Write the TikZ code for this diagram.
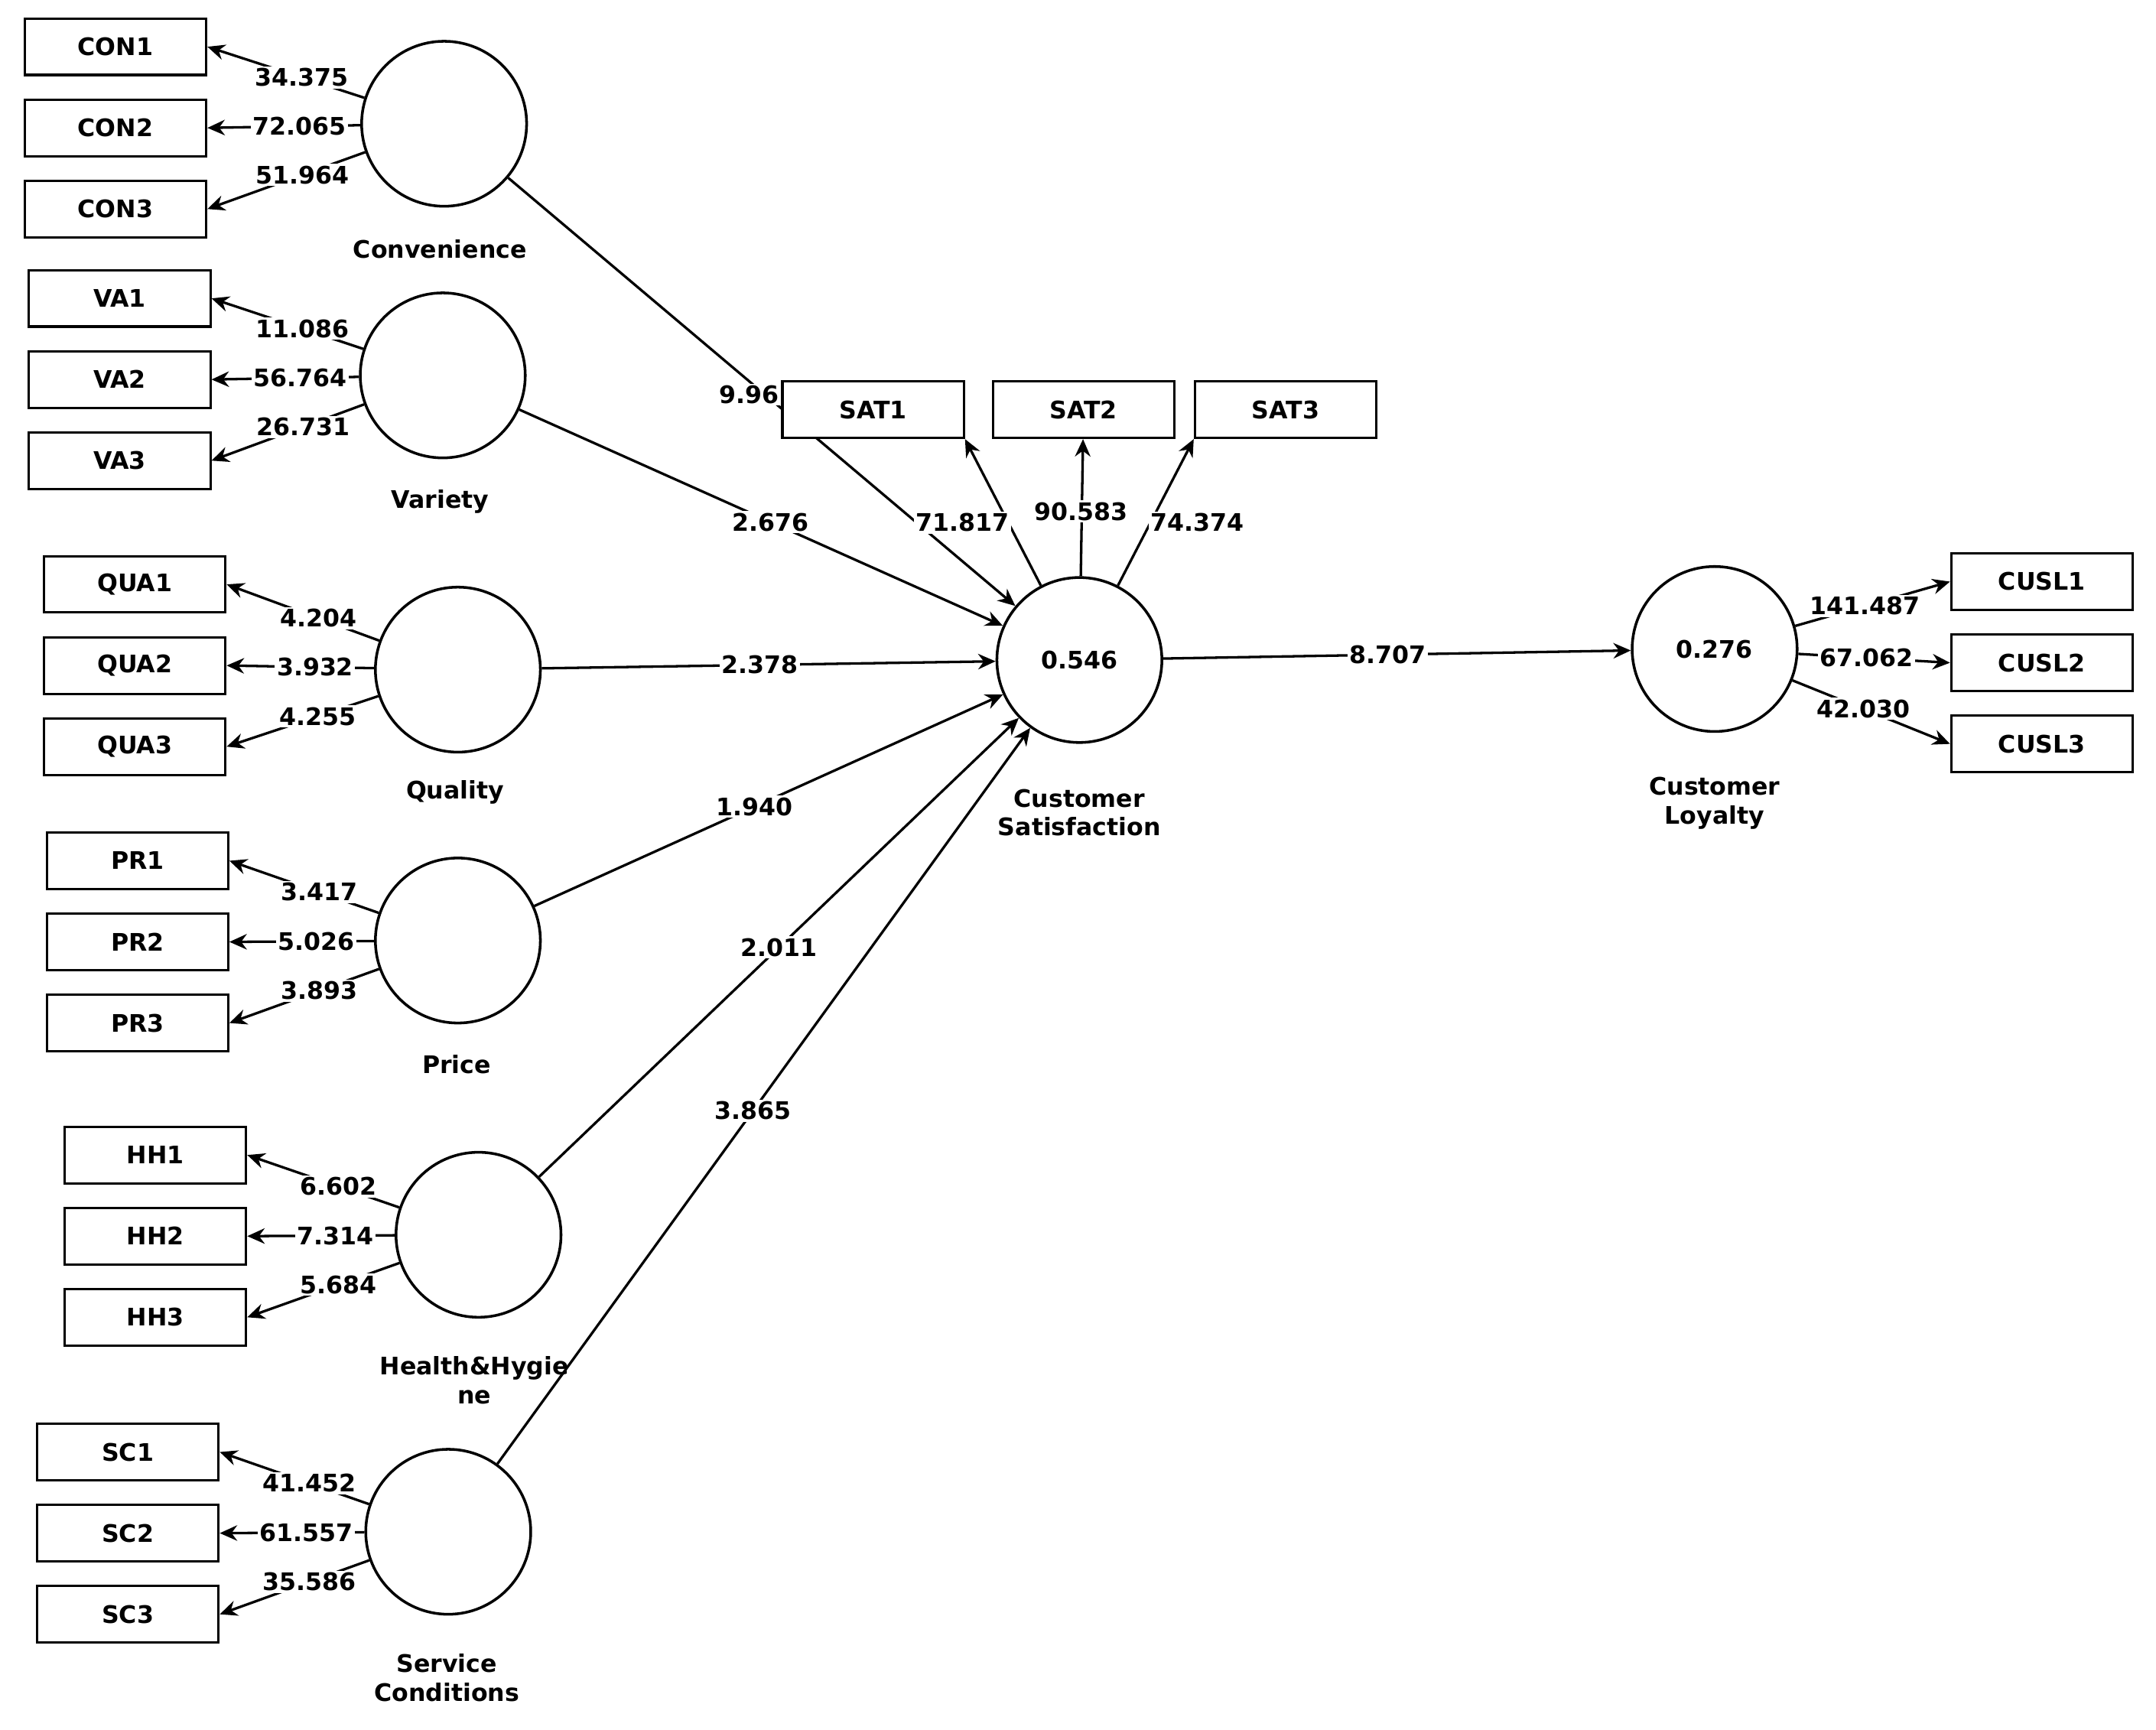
\documentclass[tikz,border=0pt]{standalone}
\usepackage{fontspec}
\setmainfont{DejaVu Sans}
\usetikzlibrary{arrows.meta}
\begin{document}
\begin{tikzpicture}[x=0.05cm,y=-0.05cm,
  every node/.style={font=\fontsize{25}{30}\selectfont\bfseries},
  lv/.style={circle,draw,line width=2.8pt,minimum size=6cm,inner sep=0pt},
  mv/.style={rectangle,draw,line width=2.4pt,minimum width=6.6cm,minimum height=2.05cm,inner sep=0pt},
  ln/.style={line width=2.6pt,-{Stealth[length=18pt,width=16pt]}},
  lab/.style={fill=white,inner sep=2pt},
  captxt/.style={align=center}]
\useasboundingbox (0,0) rectangle (1568,1258);
% latent variables
\node[lv] (con) at (323,90) {};
\node[lv] (va) at (322,273) {};
\node[lv] (qua) at (333,487) {};
\node[lv] (pr) at (333,684) {};
\node[lv] (hh) at (348,898) {};
\node[lv] (sc) at (326,1114) {};
\node[lv] (cs) at (785,480) {0.546};
\node[lv] (cl) at (1247,472) {0.276};
% captions
\node[captxt] (tcon) at (320,181) {Convenience};
\node[captxt] (tva) at (320,365) {Variety};
\node[captxt] (tqua) at (331,576) {Quality};
\node[captxt] (tpr) at (332,774) {Price};
\node[captxt] (thh) at (345,1004) {Health\&Hygie\\ne};
\node[captxt] (tsc) at (325,1220) {Service\\Conditions};
\node[captxt] (tcs) at (785,591) {Customer\\Satisfaction};
\node[captxt] (tcl) at (1247,584) {Customer\\Loyalty};
% left indicators
\foreach \c/\n/\x/\y/\a/\b/\d in {con/CON/84/34/34.375/72.065/51.964,
  va/VA/87/217/11.086/56.764/26.731,
  qua/QUA/98/425/4.204/3.932/4.255,
  pr/PR/100/626/3.417/5.026/3.893,
  hh/HH/113/840/6.602/7.314/5.684,
  sc/SC/93/1056/41.452/61.557/35.586}{
  \node[mv] (\c1) at (\x,\y) {\n1};
  \node[mv] (\c2) at (\x,\y+59) {\n2};
  \node[mv] (\c3) at (\x,\y+118) {\n3};
  \draw[ln] (\c) -- node[lab,pos=0.4]{\a} (\c1.east);
  \draw[ln] (\c) -- node[lab,pos=0.4]{\b} (\c2.east);
  \draw[ln] (\c) -- node[lab,pos=0.4]{\d} (\c3.east);
}
% structural paths
\draw[ln] (con) -- (cs);
\node[lab] (l996) at (545,287) {9.96};
\node[mv,fill=white] (sat1) at (635,298) {SAT1};
\node[mv] (sat2) at (788,298) {SAT2};
\node[mv] (sat3) at (935,298) {SAT3};
\draw[ln] (va) -- node[lab,pos=0.52]{2.676} (cs);
\draw[ln] (qua) -- node[lab,pos=0.48]{2.378} (cs);
\draw[ln] (pr) -- node[lab,pos=0.47]{1.940} (cs);
\draw[ln] (hh) -- node[lab,pos=0.5]{2.011} (cs);
\draw[ln] (sc) -- node[lab,pos=0.48]{3.865} (cs);
\draw[ln] (cs) -- node[lab,pos=0.48]{8.707} (cl);
% SAT indicators
\draw[ln] (cs) -- (sat1.south east);
\draw[ln] (cs) -- (sat2);
\draw[ln] (cs) -- (sat3.south west);
\node[lab] (l1) at (700,380) {71.817};
\node[lab] (l2) at (786,372) {90.583};
\node[lab] (l3) at (871,380) {74.374};
% CUSL
\node[mv] (cl1) at (1485,423) {CUSL1};
\node[mv] (cl2) at (1485,482) {CUSL2};
\node[mv] (cl3) at (1485,541) {CUSL3};
\draw[ln] (cl) -- node[lab,pos=0.45]{141.487} (cl1.west);
\draw[ln] (cl) -- node[lab,pos=0.45]{67.062} (cl2.west);
\draw[ln] (cl) -- node[lab,pos=0.45]{42.030} (cl3.west);
\end{tikzpicture}
\end{document}
